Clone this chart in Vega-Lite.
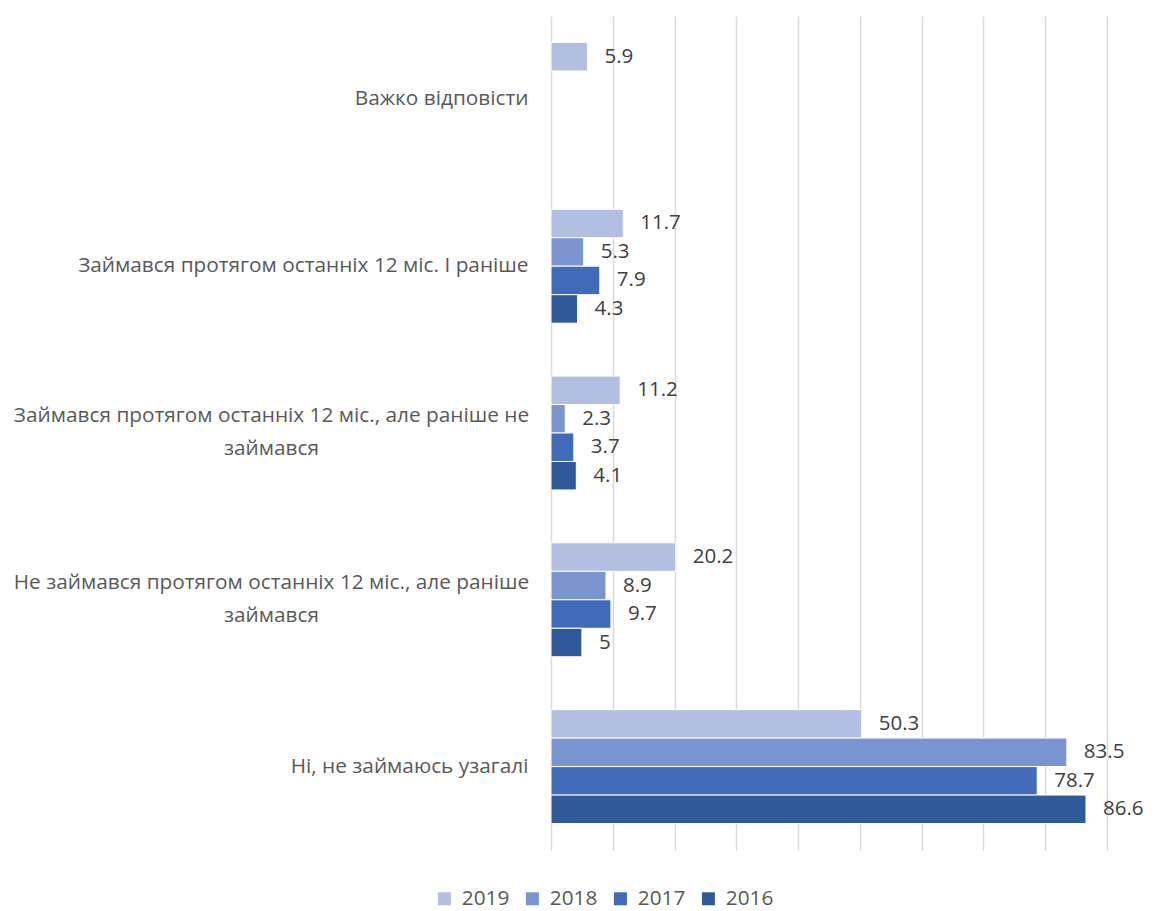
{
  "$schema": "https://vega.github.io/schema/vega-lite/v6.json",
  "autosize": "none",
  "padding": {"left": 551, "top": 16, "right": 50, "bottom": 61},
  "width": 556,
  "height": 834,
  "background": "white",
  "config": {
    "view": {"stroke": null},
    "font": "Open Sans"
  },
  "data": {
    "values": [
      {"category": "Важко відповісти", "year": "2019", "value": 5.9},
      {"category": "Займався протягом останніх 12 міс. І раніше", "year": "2019", "value": 11.7},
      {"category": "Займався протягом останніх 12 міс. І раніше", "year": "2018", "value": 5.3},
      {"category": "Займався протягом останніх 12 міс. І раніше", "year": "2017", "value": 7.9},
      {"category": "Займався протягом останніх 12 міс. І раніше", "year": "2016", "value": 4.3},
      {"category": "Займався протягом останніх 12 міс., але раніше не займався", "year": "2019", "value": 11.2},
      {"category": "Займався протягом останніх 12 міс., але раніше не займався", "year": "2018", "value": 2.3},
      {"category": "Займався протягом останніх 12 міс., але раніше не займався", "year": "2017", "value": 3.7},
      {"category": "Займався протягом останніх 12 міс., але раніше не займався", "year": "2016", "value": 4.1},
      {"category": "Не займався протягом останніх 12 міс., але раніше займався", "year": "2019", "value": 20.2},
      {"category": "Не займався протягом останніх 12 міс., але раніше займався", "year": "2018", "value": 8.9},
      {"category": "Не займався протягом останніх 12 міс., але раніше займався", "year": "2017", "value": 9.7},
      {"category": "Не займався протягом останніх 12 міс., але раніше займався", "year": "2016", "value": 5},
      {"category": "Ні, не займаюсь узагалі", "year": "2019", "value": 50.3},
      {"category": "Ні, не займаюсь узагалі", "year": "2018", "value": 83.5},
      {"category": "Ні, не займаюсь узагалі", "year": "2017", "value": 78.7},
      {"category": "Ні, не займаюсь узагалі", "year": "2016", "value": 86.6}
    ]
  },
  "encoding": {
    "y": {
      "field": "category",
      "type": "nominal",
      "sort": null,
      "title": null,
      "scale": {"paddingInner": 0.317, "paddingOuter": 0.1585},
      "axis": {
        "domain": false,
        "ticks": false,
        "grid": false,
        "labelFontSize": 20.8,
        "labelColor": "#595959",
        "labelLimit": 700,
        "labelLineHeight": 33,
        "labelAlign": {"condition": {"test": "length(datum.label) > 50", "value": "center"}, "value": "right"},
        "labelPadding": {"condition": {"test": "length(datum.label) > 50", "value": 280}, "value": 23},
        "labelOffset": {"condition": {"test": "length(datum.label) > 50", "value": -17}, "value": 0},
        "labelExpr": "length(datum.label) > 50 ? [slice(datum.label, 0, lastindexof(datum.label, ' ')), slice(datum.label, lastindexof(datum.label, ' ') + 1)] : datum.label"
      }
    },
    "yOffset": {
      "field": "year",
      "type": "nominal",
      "sort": ["2019", "2018", "2017", "2016"],
      "scale": {"paddingInner": 0, "paddingOuter": 0}
    },
    "x": {
      "field": "value",
      "type": "quantitative",
      "title": null,
      "scale": {"domain": [0, 90], "nice": false},
      "axis": {
        "grid": true,
        "labels": false,
        "ticks": false,
        "domain": false,
        "labelOverlap": false,
        "values": [0, 10, 20, 30, 40, 50, 60, 70, 80, 90],
        "gridColor": "#d9d9d9",
        "gridWidth": 1.5
      }
    }
  },
  "layer": [
    {
      "mark": {"type": "bar", "stroke": "white", "strokeWidth": 1},
      "encoding": {
        "color": {
          "field": "year",
          "type": "nominal",
          "sort": ["2019", "2018", "2017", "2016"],
          "scale": {
            "domain": ["2019", "2018", "2017", "2016"],
            "range": ["#b3bfe0", "#7a94d0", "#3f6bb9", "#30599a"]
          },
          "legend": {
            "title": null,
            "orient": "none",
            "direction": "horizontal",
            "legendX": -117,
            "legendY": 872,
            "symbolType": "square",
            "symbolSize": 169,
            "symbolStrokeWidth": 0,
            "labelFontSize": 20.8,
            "labelColor": "#595959",
            "labelOffset": 7,
            "columnPadding": 12
          }
        }
      }
    },
    {
      "mark": {"type": "text", "align": "left", "baseline": "middle", "dx": 17, "fontSize": 20.5, "color": "#404040"},
      "encoding": {
        "text": {"field": "value", "type": "nominal"}
      }
    }
  ]
}
